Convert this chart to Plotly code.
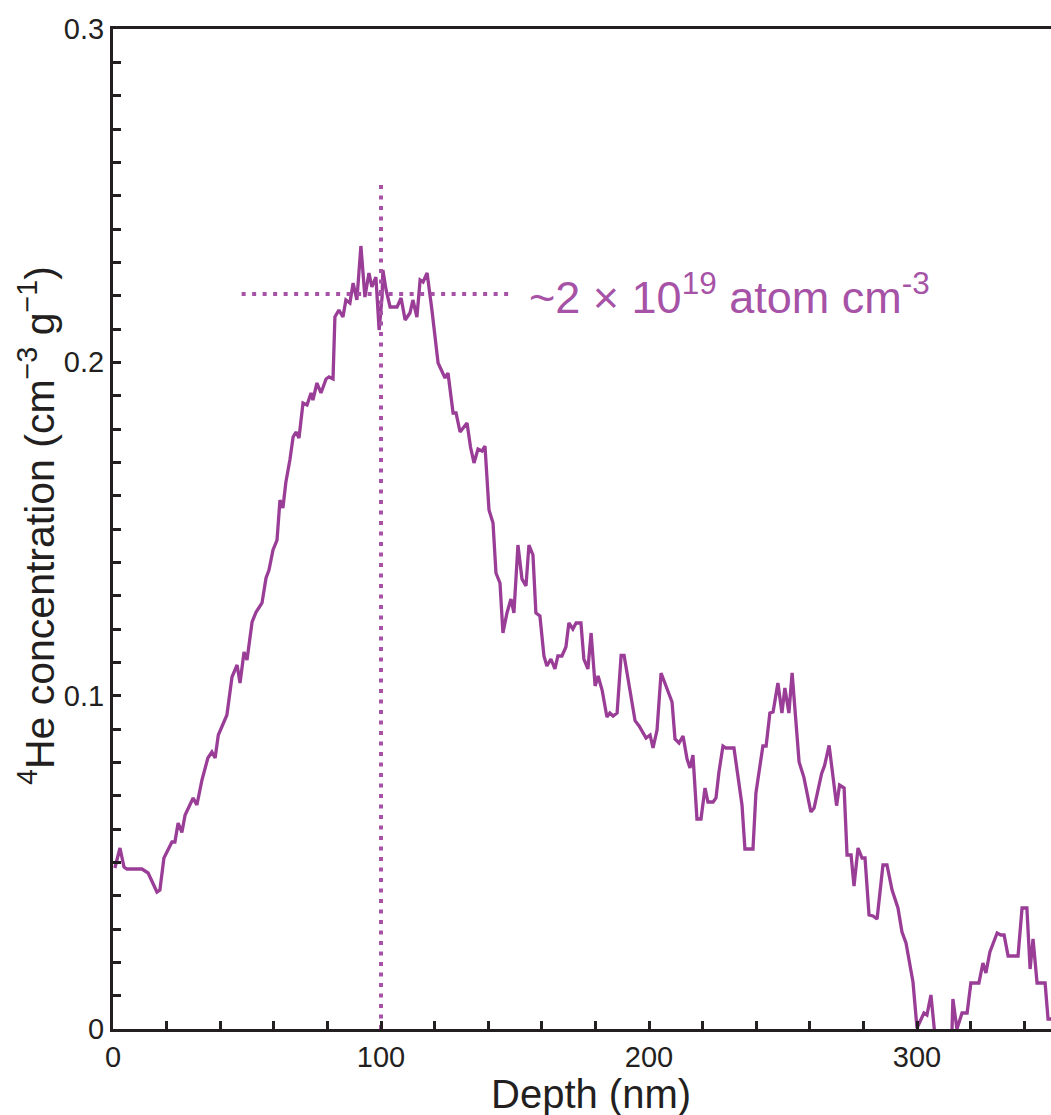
import plotly.graph_objects as go

depth = [0.7, 2.6, 4.1, 5.2, 10.8, 13.1, 16.4, 17.5, 19.0, 21.3, 22.0, 23.1, 24.3, 25.7, 26.9,
         29.9, 31.3, 33.2, 35.4, 36.9, 38.1, 39.3, 42.5, 44.4, 46.3, 47.4, 48.9, 50.0, 51.9,
         53.4, 55.6, 57.1, 58.2, 59.7, 61.2, 62.3, 63.4, 64.5, 66.0, 67.2, 68.3, 69.4, 70.9,
         72.4, 73.9, 74.6, 76.1, 77.6, 79.5, 80.6, 82.1, 82.8, 84.3, 85.8, 86.9, 88.4, 89.6,
         91.0, 92.5, 94.0, 95.5, 96.6, 98.1, 99.3, 100.4, 100.7, 101.9, 103.4, 106.0, 107.5,
         109.0, 110.8, 111.9, 113.4, 114.6, 115.7, 117.2, 119.0, 121.3, 123.9, 125.0, 126.9,
         128.0, 129.5, 132.1, 133.4, 134.7, 136.2, 137.7, 138.8, 140.3, 141.8, 142.9, 144.4,
         145.5, 147.0, 148.5, 149.6, 151.1, 152.6, 154.1, 155.2, 156.7, 157.8, 159.3, 160.8,
         161.9, 163.4, 164.9, 166.0, 167.5, 169.0, 170.1, 171.6, 172.8, 174.6, 175.7, 177.2,
         178.4, 179.9, 181.0, 182.5, 184.3, 185.4, 186.6, 188.1, 189.6, 190.7, 193.7, 194.8,
         196.3, 198.9, 200.4, 201.5, 203.0, 204.5, 208.6, 209.7, 211.2, 212.7, 214.2, 215.3,
         216.4, 217.9, 219.4, 220.9, 222.0, 223.9, 225.0, 226.1, 227.6, 228.7, 231.7, 233.2,
         234.7, 235.8, 238.8, 239.9, 242.5, 243.7, 245.1, 246.3, 248.1, 249.6, 250.7, 252.2,
         253.4, 256.0, 257.8, 260.4, 261.6, 264.4, 265.5, 267.2, 270.0, 271.1, 272.8, 273.9,
         275.4, 276.5, 278.0, 279.5, 280.6, 282.1, 283.6, 285.1, 287.3, 288.8, 290.7, 292.9,
         294.4, 295.9, 297.4, 298.5, 300.0, 301.5, 302.6, 303.7, 305.2, 306.7, 308.5, 311.0,
         313.0, 313.4, 314.9, 316.8, 318.7, 320.1, 323.1, 324.6, 325.7, 327.2, 329.9, 331.3,
         332.5, 334.0, 337.7, 339.2, 341.0, 342.2, 343.3, 344.8, 347.8, 348.9, 350.5]

he_conc = [0.0483, 0.0543, 0.0486, 0.048, 0.048, 0.0468, 0.0411, 0.0417, 0.0513, 0.0552, 0.0561,
           0.0561, 0.0618, 0.059, 0.0642, 0.0693, 0.0672, 0.0747, 0.0813, 0.0831, 0.0813, 0.0882,
           0.0942, 0.1056, 0.1092, 0.1038, 0.1131, 0.1107, 0.1221, 0.1251, 0.1278, 0.1353, 0.1377,
           0.1437, 0.1467, 0.1587, 0.1563, 0.164, 0.1707, 0.1776, 0.1791, 0.1773, 0.1878, 0.1872,
           0.1908, 0.1887, 0.1938, 0.1908, 0.195, 0.1956, 0.195, 0.2136, 0.2157, 0.2136, 0.2187,
           0.2178, 0.2238, 0.2187, 0.2349, 0.2196, 0.2268, 0.2226, 0.2256, 0.2097, 0.2196, 0.2277,
           0.2217, 0.2166, 0.2166, 0.2193, 0.2127, 0.2148, 0.2187, 0.2136, 0.2247, 0.2241, 0.2268,
           0.2157, 0.1998, 0.1953, 0.1968, 0.1848, 0.1848, 0.1791, 0.1818, 0.1746, 0.1698, 0.174,
           0.1734, 0.1749, 0.1557, 0.1518, 0.1368, 0.1338, 0.1188, 0.1248, 0.129, 0.1248, 0.1452,
           0.135, 0.1329, 0.1452, 0.1422, 0.1248, 0.1239, 0.1119, 0.1089, 0.111, 0.108, 0.1119,
           0.1119, 0.1146, 0.1218, 0.12, 0.1218, 0.1218, 0.111, 0.108, 0.1188, 0.1029, 0.1059,
           0.1017, 0.0936, 0.0948, 0.0939, 0.0948, 0.1121, 0.1121, 0.097, 0.0925, 0.0909, 0.0873,
           0.0882, 0.0843, 0.0897, 0.1068, 0.0981, 0.087, 0.0858, 0.0879, 0.081, 0.0783, 0.0822,
           0.063, 0.063, 0.0723, 0.0681, 0.0681, 0.0693, 0.0771, 0.0849, 0.0843, 0.0843, 0.075,
           0.0672, 0.054, 0.054, 0.0708, 0.0849, 0.0849, 0.0948, 0.0951, 0.1038, 0.0948, 0.1023,
           0.0948, 0.1068, 0.0801, 0.0755, 0.0651, 0.0663, 0.0766, 0.079, 0.0851, 0.067, 0.0732,
           0.0723, 0.0522, 0.0522, 0.0429, 0.0543, 0.0513, 0.0513, 0.0342, 0.0339, 0.033, 0.0492,
           0.0492, 0.0417, 0.0363, 0.0291, 0.0258, 0.0192, 0.0141, 0.0003, 0.0027, 0.0048, 0.0042,
           0.0102, -0.002, -0.006, -0.006, -0.002, 0.009, 0.0, 0.0048, 0.0048, 0.0138, 0.0138,
           0.0198, 0.0168, 0.0231, 0.0288, 0.0282, 0.0282, 0.0219, 0.0219, 0.0363, 0.0363, 0.018,
           0.027, 0.0138, 0.0138, 0.003, 0.003]

# reference guide lines
peak_depth = 100
peak_conc = 0.2205
hline_depths = [48, 148]
vline_concs = [0, 0.254]

x_ticks = [0, 100, 200, 300]
y_ticks = [0, 0.1, 0.2, 0.3]
y_tick_labels = ["0", "0.1", "0.2", "0.3"]

LINE = "#993D97"
GUIDE = "#A652A6"
INK = "#231F20"
FONT = "Liberation Sans, Arial, sans-serif"

fig = go.Figure()
fig.add_trace(go.Scatter(x=depth, y=he_conc, mode="lines",
                         line=dict(color=LINE, width=3.3), showlegend=False, hoverinfo="skip"))
fig.add_trace(go.Scatter(x=hline_depths, y=[peak_conc, peak_conc], mode="lines",
                         line=dict(color=GUIDE, width=4, dash="4px,6.5px"), showlegend=False))
fig.add_trace(go.Scatter(x=[peak_depth, peak_depth], y=vline_concs, mode="lines",
                         line=dict(color=GUIDE, width=4, dash="4px,6.5px"), showlegend=False))

fig.add_annotation(x=154.5, y=peak_conc, xref="x", yref="y", xanchor="left", yanchor="middle",
                   text="~2 × 10<sup>19</sup> atom cm<sup>-3</sup>", showarrow=False,
                   font=dict(family=FONT, size=45, color=GUIDE))

fig.add_annotation(x=0.51, y=-0.065, xref="paper", yref="paper", xanchor="center", yanchor="middle",
                   text="Depth (nm)", showarrow=False, font=dict(family=FONT, size=40, color=INK))
fig.add_annotation(x=-0.081, y=0.503, xref="paper", yref="paper", xanchor="center", yanchor="middle",
                   textangle=-90,
                   text="<sup>4</sup>He concentration (cm<sup>−3</sup> g<sup>−1</sup>)",
                   showarrow=False, font=dict(family=FONT, size=41, color=INK))

axis_common = dict(showgrid=False, zeroline=False, showline=True, linecolor=INK, linewidth=3,
                   ticks="inside", ticklen=8, tickwidth=2.5, tickcolor=INK,
                   tickfont=dict(family=FONT, size=29, color=INK))

fig.update_xaxes(range=[0, 350], tickvals=x_ticks, mirror=True,
                 minor=dict(dtick=20, ticks="inside", ticklen=8, tickwidth=2.5, tickcolor=INK),
                 **axis_common)
fig.update_yaxes(range=[0, 0.3], tickvals=y_ticks, ticktext=y_tick_labels,
                 minor=dict(dtick=0.01, ticks="inside", ticklen=8, tickwidth=2.5, tickcolor=INK),
                 **axis_common)

fig.update_layout(width=1051, height=1115, margin=dict(l=113, r=0, t=29, b=86),
                  plot_bgcolor="white", paper_bgcolor="white", showlegend=False)

fig.write_html("out.html")
